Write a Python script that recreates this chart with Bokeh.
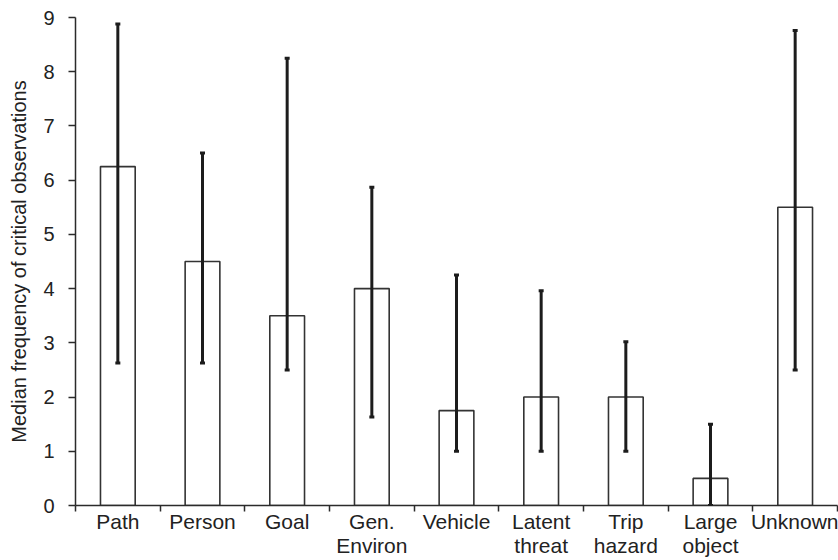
from bokeh.plotting import figure
from bokeh.models import ColumnDataSource, Whisker, TeeHead, FixedTicker, Range1d
from bokeh.embed import file_html
from bokeh.resources import INLINE

categories = ["Path", "Person", "Goal", "Gen.\nEnviron", "Vehicle",
              "Latent\nthreat", "Trip\nhazard", "Large\nobject", "Unknown"]
median = [6.25, 4.5, 3.5, 4.0, 1.75, 2.0, 2.0, 0.5, 5.5]
lower = [2.63, 2.63, 2.5, 1.63, 1.0, 1.0, 1.0, 0.0, 2.5]
upper = [8.88, 6.5, 8.25, 5.87, 4.25, 3.96, 3.02, 1.5, 8.76]
y_ticks = [0, 1, 2, 3, 4, 5, 6, 7, 8, 9]

xpos = [i + 0.5 for i in range(len(categories))]
src = ColumnDataSource(dict(x=xpos, top=median, lower=lower, upper=upper))

FONT = "Liberation Sans"
AX = "#2b2b2b"

p = figure(width=838, height=560, output_backend="svg", toolbar_location=None,
           x_range=Range1d(0, len(categories)), y_range=Range1d(0, 9),
           min_border_left=75, min_border_right=1, min_border_top=17,
           min_border_bottom=40)
p.outline_line_color = None
p.xgrid.visible = False
p.ygrid.visible = False
p.background_fill_color = "white"
p.border_fill_color = "white"

p.vbar(x="x", top="top", bottom=0, width=0.41, source=src,
       fill_color="white", line_color="#333333", line_width=1.6)

w = Whisker(base="x", upper="upper", lower="lower", source=src, dimension="height",
            line_color="#1c1c1c", line_width=3, level="overlay",
            upper_head=TeeHead(size=5, line_color="#1c1c1c", line_width=3),
            lower_head=TeeHead(size=5, line_color="#1c1c1c", line_width=3))
p.add_layout(w)

# x axis
p.xaxis.ticker = FixedTicker(ticks=xpos, minor_ticks=list(range(len(categories) + 1)))
p.xaxis.major_label_overrides = {x: c for x, c in zip(xpos, categories)}
p.xaxis.major_tick_out = 0
p.xaxis.major_tick_in = 0
p.xaxis.minor_tick_out = 6
p.xaxis.minor_tick_in = 0
p.xaxis.minor_tick_line_color = AX
p.xaxis.minor_tick_line_width = 1.5
p.xaxis.axis_line_color = AX
p.xaxis.axis_line_width = 1.5
p.xaxis.major_label_standoff = -2
p.xaxis.major_label_text_font = FONT
p.xaxis.major_label_text_font_size = "21px"
p.xaxis.major_label_text_color = "#222222"
p.xaxis.major_label_text_line_height = 1.07

# y axis
p.yaxis.ticker = FixedTicker(ticks=y_ticks)
p.yaxis.minor_tick_line_color = None
p.yaxis.major_tick_out = 7
p.yaxis.major_tick_in = 0
p.yaxis.major_tick_line_color = AX
p.yaxis.major_tick_line_width = 1.5
p.yaxis.axis_line_color = AX
p.yaxis.axis_line_width = 1.5
p.yaxis.major_label_standoff = 14
p.yaxis.major_label_text_font = FONT
p.yaxis.major_label_text_font_size = "20px"
p.yaxis.major_label_text_color = "#222222"
p.yaxis.axis_label = "Median frequency of critical observations"
p.yaxis.axis_label_text_font = FONT
p.yaxis.axis_label_text_font_size = "20px"
p.yaxis.axis_label_text_font_style = "normal"
p.yaxis.axis_label_text_color = "#222222"
p.yaxis.axis_label_standoff = 10

open("out.html", "w").write(file_html(p, INLINE))
